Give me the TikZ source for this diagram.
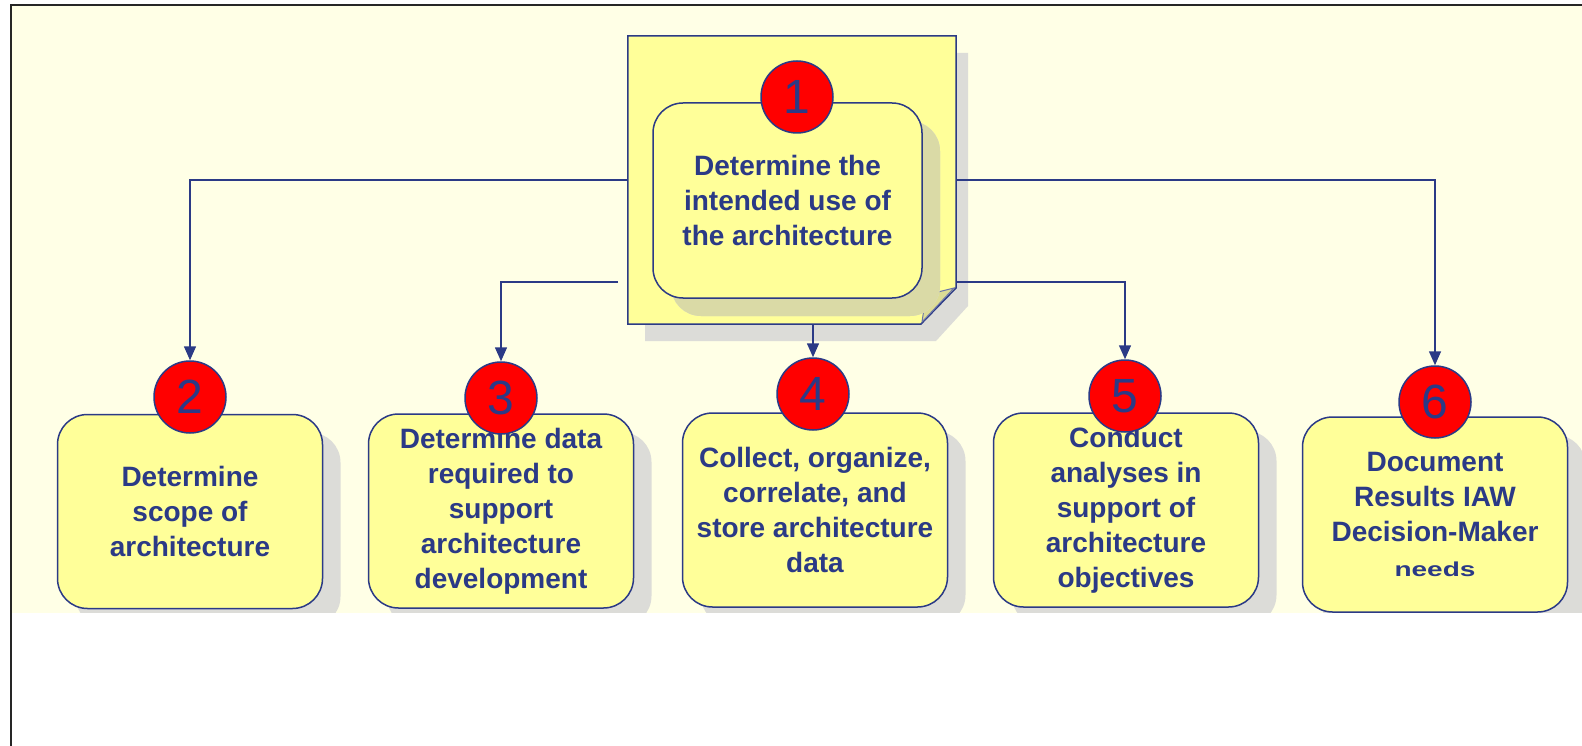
\documentclass[tikz,border=0pt]{standalone}
\usepackage{fontspec}
\setmainfont{Liberation Sans}
\usetikzlibrary{arrows.meta,shadows}
\definecolor{bgy}{HTML}{FFFFE6}
\definecolor{boxy}{HTML}{FFFF99}
\definecolor{navyc}{HTML}{2B3A86}
\definecolor{shd}{HTML}{DCDCD8}
\definecolor{shdy}{HTML}{DADAA6}
\definecolor{flapc}{HTML}{DCDC96}
\definecolor{redc}{HTML}{FF0000}
\begin{document}
\begin{tikzpicture}[x=1pt,y=-1pt,
  stepbox/.style={draw=navyc, line width=1.5pt, fill=boxy, rounded corners=30pt,
    minimum width=265pt, minimum height=194pt, align=center, text=navyc,
    font=\fontsize{28}{35}\selectfont\bfseries, inner sep=0pt,
    drop shadow={shadow xshift=18pt, shadow yshift=-18pt, fill=shd, opacity=1}},
  numc/.style={circle, draw=navyc, line width=1.5pt, fill=redc, minimum size=72pt,
    inner sep=0pt, text=navyc, font=\fontsize{48}{48}\selectfont},
  conn/.style={draw=navyc, line width=1.5pt, -{Triangle[length=14pt,width=12pt]}}]
\useasboundingbox (0,0) rectangle (1582,746);
\fill[white] (0,0) rectangle (1582,746);
\fill[bgy] (11,5) rectangle (1582,613);

% top note
\node[minimum width=328pt, minimum height=288pt, inner sep=0pt] (note) at (792,180) {};
\fill[shd] (645,53) -- (968,53) -- (968,306) -- (936,341) -- (645,341) -- cycle;
\draw[navyc, line width=1.5pt, fill=boxy] (note.north west) -- (note.north east) -- (956,288) -- (921,324) -- (note.south west) -- cycle;
\draw[navyc!70, line width=1pt, fill=flapc] (954,288) -- (926,295) -- (922,322) -- cycle;

\node[stepbox, minimum width=269pt, minimum height=195pt,
  drop shadow={shadow xshift=18pt, shadow yshift=-18pt, fill=shdy, opacity=1}] (b1) at (787.5,200.5)
  {Determine the\\intended use of\\the architecture};
\node[numc] (c1) at (797,97) {1};

% bottom boxes
\node[stepbox] (b2) at (190,511.5) {Determine\\scope of\\architecture};
\node[stepbox] (b3) at (501,511) {Determine data\\required to\\support\\architecture\\development};
\node[stepbox] (b4) at (815,510) {Collect, organize,\\correlate, and\\store architecture\\data};
\node[stepbox] (b5) at (1126,510) {Conduct\\analyses in\\support of\\architecture\\objectives};
\node[stepbox, minimum height=195pt] (b6) at (1435,514.5) {Document\\Results IAW\\Decision-Maker\\\scalebox{1}[0.72]{needs}};

\node[numc] (c2) at (190,397) {2};
\node[numc] (c3) at (501,398) {3};
\node[numc] (c4) at (813,394) {4};
\node[numc] (c5) at (1125,396) {5};
\node[numc] (c6) at (1435,402) {6};

% connectors
\coordinate (l3) at (618,282);
\draw[conn] (note.west) -- (c2.north |- note.west) -- (c2.north);
\draw[conn] (note.east) -- (c6.north |- note.east) -- (c6.north);
\draw[conn] (l3) -- (c3.north |- l3) -- (c3.north);
\draw[conn] (note.east |- l3) -- (c5.north |- l3) -- (c5.north);
\draw[conn] (c4.north |- note.south) -- (c4.north);

% lower white area and frame
\fill[white] (12,613) rectangle (1582,746);
\draw[black!85, line width=2pt] (11,746) -- (11,5) -- (1582,5);
\end{tikzpicture}
\end{document}
